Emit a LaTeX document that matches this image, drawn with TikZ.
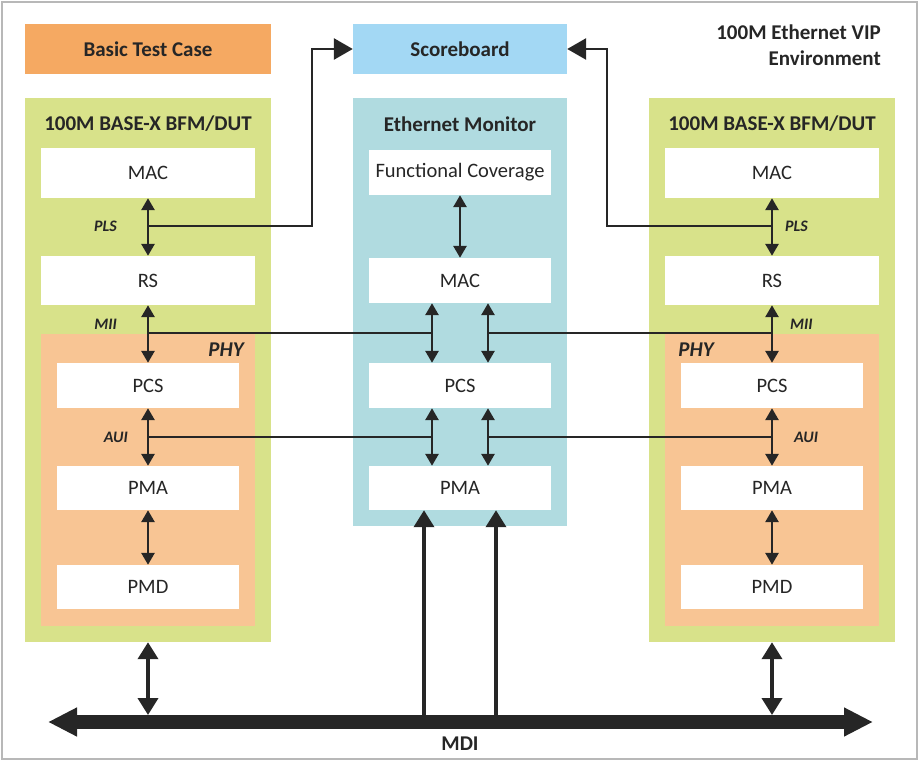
\documentclass[tikz,border=0pt]{standalone}
\usepackage{fontspec}
\setmainfont{Carlito}
\usepackage{tikz}
\usetikzlibrary{arrows.meta}
\definecolor{tcorange}{RGB}{245,169,98}
\definecolor{sbblue}{RGB}{163,216,244}
\definecolor{bfmgreen}{RGB}{216,226,138}
\definecolor{phyorange}{RGB}{248,197,148}
\definecolor{montea}{RGB}{176,219,224}
\definecolor{ink}{RGB}{38,38,38}
\newcommand{\bgpanel}[7]{%
  \node[fill=#6,minimum width=#4pt,minimum height=#5pt,inner sep=0pt,
        font=\fontsize{21}{24}\selectfont\bfseries] (#1) at (#2,#3) {#7};}
\newcommand{\layerbox}[6]{%
  \node[lyrbox,minimum width=#4pt,minimum height=#5pt] (#1) at (#2,#3) {#6};}

\begin{document}
\begin{tikzpicture}[x=1pt,y=-1pt,text=ink,
    lyrbox/.style={fill=white,inner sep=0pt,font=\fontsize{20.5}{24}\selectfont},
    ttl/.style={inner sep=0pt,font=\fontsize{21}{26}\selectfont\bfseries},
    tag/.style={inner sep=0pt,font=\fontsize{16}{18}\selectfont\bfseries\itshape},
    lnk/.style={draw=ink,line width=2.8pt,
      {Triangle[width=13pt,length=12pt]}-{Triangle[width=13pt,length=12pt]}},
    wire/.style={draw=ink,line width=2.8pt},
    feed/.style={draw=ink,line width=2.8pt,-{Triangle[width=21pt,length=19pt]}},
    bus/.style={draw=ink,line width=3.8pt,
      {Triangle[width=20pt,length=17pt]}-{Triangle[width=20pt,length=17pt]}},
    up/.style={draw=ink,line width=3.6pt,-{Triangle[width=20pt,length=17pt]}},
    mdi/.style={draw=ink,line width=14pt,
      {Triangle[width=27pt,length=29pt]}-{Triangle[width=27pt,length=29pt]}}]
\useasboundingbox (0,0) rectangle (920,762);
\draw[black!28,line width=2pt] (2,2) rectangle (917,759);

\bgpanel{tc}{148}{49}{246}{50}{tcorange}{Basic Test Case}
\bgpanel{sb}{460}{49}{214}{50}{sbblue}{Scoreboard}
\node[ttl,anchor=east,align=right] (env) at (881,45) {100M Ethernet VIP\\Environment};

\foreach \s/\cx in {l/148,r/772}{
  \bgpanel{\s bfm}{\cx}{370}{246}{544}{bfmgreen}{}
  \bgpanel{\s phy}{\cx}{480}{214}{292}{phyorange}{}
  \node[ttl] (\s ttl) at (\cx,124) {100M BASE-X BFM/DUT};
  \layerbox{\s mac}{\cx}{173}{214}{50}{MAC}
  \layerbox{\s rs}{\cx}{280.5}{214}{49}{RS}
  \layerbox{\s pcs}{\cx}{385.5}{182}{45}{PCS}
  \layerbox{\s pma}{\cx}{488}{182}{44}{PMA}
  \layerbox{\s pmd}{\cx}{587}{182}{44}{PMD}
  \draw[lnk] (\s mac) -- (\s rs);
  \draw[lnk] (\s rs) -- (\s pcs);
  \draw[lnk] (\s pcs) -- (\s pma);
  \draw[lnk] (\s pma) -- (\s pmd);
}
\node[ttl,font=\fontsize{21}{24}\selectfont\bfseries\itshape] (lphyttl) at (226,350) {PHY};
\node[ttl,font=\fontsize{21}{24}\selectfont\bfseries\itshape] (rphyttl) at (696,350) {PHY};
\node[tag,anchor=east] (lplstag) at (117,226) {PLS};
\node[tag,anchor=east] (lmiitag) at (117,324) {MII};
\node[tag,anchor=east] (lauitag) at (128,437) {AUI};
\node[tag,anchor=west] (rplstag) at (785,226) {PLS};
\node[tag,anchor=west] (rmiitag) at (790,324) {MII};
\node[tag,anchor=west] (rauitag) at (794,437) {AUI};

\bgpanel{mon}{460}{312}{214}{428}{montea}{}
\node[ttl] (monttl) at (460,124) {Ethernet Monitor};
\layerbox{fcov}{460}{172.5}{182}{45}{Functional Coverage}
\layerbox{mmac}{460}{280.5}{182}{45}{MAC}
\layerbox{mpcs}{460}{385.5}{182}{45}{PCS}
\layerbox{mpma}{460}{488}{182}{44}{PMA}
\draw[lnk] (fcov) -- (mmac);
\draw[lnk] ([xshift=-28pt]mmac.south) -- ([xshift=-28pt]mpcs.north);
\draw[lnk] ([xshift=28pt]mmac.south) -- ([xshift=28pt]mpcs.north);
\draw[lnk] ([xshift=-28pt]mpcs.south) -- ([xshift=-28pt]mpma.north);
\draw[lnk] ([xshift=28pt]mpcs.south) -- ([xshift=28pt]mpma.north);

\coordinate (lpls) at (148,226);
\coordinate (rpls) at (772,226);
\draw[feed] (lpls) -- (312,226) |- (sb.west);
\draw[feed] (rpls) -- (607,226) |- (sb.east);

\coordinate (lmii) at (148,333);
\coordinate (mmiil) at (432,333);
\coordinate (mmiir) at (488,333);
\coordinate (rmii) at (772,333);
\draw[wire] (lmii) -- (mmiil);
\draw[wire] (mmiir) -- (rmii);
\coordinate (laui) at (148,437);
\coordinate (mauil) at (432,437);
\coordinate (mauir) at (488,437);
\coordinate (raui) at (772,437);
\draw[wire] (laui) -- (mauil);
\draw[wire] (mauir) -- (raui);

\coordinate (mdil) at (48,722);
\coordinate (mdir) at (873,722);
\draw[mdi] (mdil) -- (mdir);
\node[ttl] (mditag) at (460,744) {MDI};
\coordinate (lbus) at (148,715);
\coordinate (rbus) at (772,715);
\coordinate (mbusl) at (424,716);
\coordinate (mbusr) at (496,716);
\draw[bus] (lbfm) -- (lbus);
\draw[bus] (rbfm) -- (rbus);
\draw[up] (mbusl) -- (mbusl |- mpma.south);
\draw[up] (mbusr) -- (mbusr |- mpma.south);
\end{tikzpicture}
\end{document}
